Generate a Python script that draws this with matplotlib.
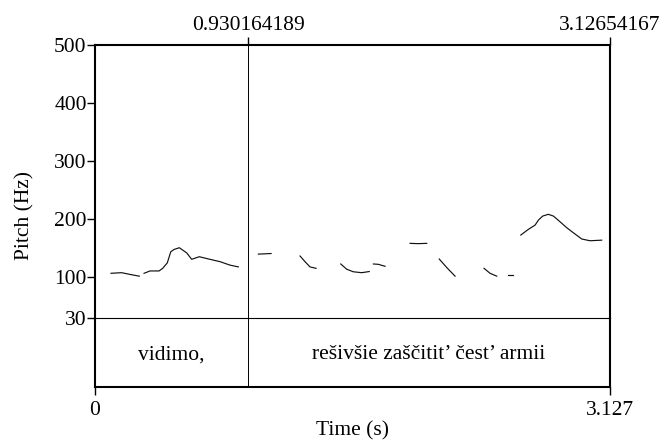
import matplotlib.pyplot as plt

plt.rcParams['font.family'] = ['Liberation Serif', 'DejaVu Serif']

# pitch track segments (time in s, F0 in Hz)
seg_times = [
    [0.097, 0.162, 0.213, 0.269],
    [0.298, 0.334, 0.389, 0.411, 0.439, 0.460, 0.480, 0.512, 0.557, 0.587,
     0.633, 0.698, 0.759, 0.820, 0.870],
    [0.992, 1.069],
    [1.245, 1.275, 1.305, 1.342],
    [1.492, 1.528, 1.568, 1.619, 1.665],
    [1.690, 1.720, 1.761],
    [1.913, 1.961, 2.014],
    [2.090, 2.135, 2.186],
    [2.362, 2.398, 2.439],
    [2.509, 2.536],
    [2.585, 2.631, 2.672, 2.692, 2.718, 2.752, 2.783, 2.823, 2.864, 2.904,
     2.955, 3.005, 3.076],
]
seg_pitch = [
    [107, 108, 105, 102],
    [107, 111, 111, 115.5, 125, 144, 148, 151, 142, 131,
     135.5, 131, 127, 121, 118],
    [140, 141],
    [136.7, 127, 118, 115.5],
    [123, 114, 109.6, 108, 110],
    [123, 122.4, 119],
    [158.5, 158, 158.5],
    [131.5, 117, 102],
    [115.5, 107, 102],
    [104.5, 104.5],
    [172.8, 182.6, 190, 198.6, 205.5, 208.5, 205.5, 195.7, 185.4, 176.8,
     166, 163, 164],
]

t_end = 3.12654167
boundary = 0.930164189
intervals = [(0, boundary, 'vidimo,'),
             (boundary, t_end, 'rešivšie zaščitit’ čest’ armii')]
pitch_ticks = [30, 100, 200, 300, 400, 500]
fs = 15.5

fig = plt.figure(figsize=(6.64, 4.43), dpi=100)
ax = fig.add_axes([95 / 664, 1 - 318 / 443, 515 / 664, 273 / 443])
tier = fig.add_axes([95 / 664, 1 - 387 / 443, 515 / 664, 69 / 443])
tier.set_facecolor('none')

for t, f in zip(seg_times, seg_pitch):
    ax.plot(t, f, color='#111111', lw=0.85)

ax.set_xlim(0, t_end)
ax.set_ylim(30, 500)
ax.set_yticks(pitch_ticks)
ax.tick_params(axis='y', direction='out', length=6, width=1, labelsize=fs, pad=0)
ax.xaxis.tick_top()
ax.set_xticks([boundary, t_end])
ax.set_xticklabels(['0.930164189', '3.12654167'])
ax.tick_params(axis='x', direction='out', length=6, width=1, labelsize=fs, pad=1)
# y label centred on pitch panel + tier together
ax.set_ylabel('Pitch (Hz)', fontsize=fs)
ax.yaxis.set_label_coords(-0.118, 0.374)
for s in ['top', 'left', 'right']:
    ax.spines[s].set_linewidth(1.5)
ax.spines['bottom'].set_linewidth(0.8)
ax.axvline(boundary, color='black', lw=0.7)

tier.set_xlim(0, t_end)
tier.set_ylim(0, 1)
tier.axvline(boundary, color='black', lw=0.7)
for start, end, label in intervals:
    tier.text((start + end) / 2, 0.47, label, ha='center', va='center', fontsize=fs)
tier.set_yticks([])
tier.spines['top'].set_visible(False)
for s in ['bottom', 'left', 'right']:
    tier.spines[s].set_linewidth(1.5)
tier.set_xticks([0, t_end])
tier.set_xticklabels(['0', '3.127'])
tier.tick_params(axis='x', direction='out', length=6, width=1, labelsize=fs, pad=4)
tier.set_xlabel('Time (s)', fontsize=fs, labelpad=1)

fig.savefig('out.png', dpi=100)
